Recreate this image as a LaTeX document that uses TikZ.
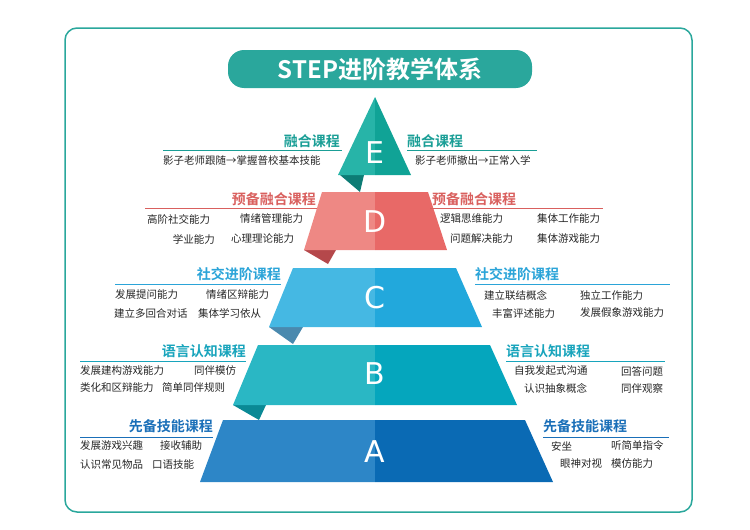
\documentclass[tikz,border=0pt]{standalone}
\usepackage{fontspec}
\setmainfont{Noto Sans CJK SC}
\newfontfamily\headfont{Noto Sans CJK SC Bold}
\newfontfamily\letterfont{DejaVu Sans}
\usetikzlibrary{positioning}
\definecolor{frameteal}{HTML}{2AA79C}
\definecolor{eL}{HTML}{27B4A8}\definecolor{eR}{HTML}{10A396}\definecolor{eF}{HTML}{0D7C75}
\definecolor{dL}{HTML}{EE8884}\definecolor{dR}{HTML}{E86967}\definecolor{dF}{HTML}{B5484B}
\definecolor{cL}{HTML}{45B8E3}\definecolor{cR}{HTML}{22A8DC}\definecolor{cF}{HTML}{4A89AE}
\definecolor{bL}{HTML}{2AB7C4}\definecolor{bR}{HTML}{05A6BD}\definecolor{bF}{HTML}{0A8995}
\definecolor{aL}{HTML}{2D86C7}\definecolor{aR}{HTML}{0A6AB4}
\definecolor{eH}{HTML}{1A9E96}\definecolor{dH}{HTML}{D9605E}\definecolor{cH}{HTML}{2BA4D8}
\definecolor{bH}{HTML}{18A4BC}\definecolor{aH}{HTML}{1A6FB8}

\begin{document}
\begin{tikzpicture}[x=1pt,y=-1pt,
  item/.style={font=\fontsize{10.5}{12}\selectfont,inner sep=0pt,text=black!85},
  head/.style={font=\headfont\fontsize{14}{16}\selectfont,inner sep=0pt},
  letter/.style={font=\letterfont\fontsize{30}{30}\selectfont,text=white,inner sep=0pt}]

  \useasboundingbox (0,0) rectangle (750,530);
  \draw[frameteal,line width=1.5pt,rounded corners=12pt] (65,28) rectangle (692,512);

  % title
  \fill[frameteal,rounded corners=16pt] (228,50) rectangle (532,88);
  \node[font=\headfont\fontsize{24}{26}\selectfont,text=white] (title) at (380,69) {STEP进阶教学体系};

  % tiers
  \fill[eF] (340,175) -- (364,175) -- (360,192) -- cycle;
  \fill[eL] (375,97) -- (338,175) -- (375,175) -- cycle;
  \fill[eR] (375,97) -- (411,175) -- (375,175) -- cycle;
  \fill[dF] (304,250) -- (336,250) -- (328,264) -- cycle;
  \fill[dL] (322,192) -- (375,192) -- (375,250) -- (304,250) -- cycle;
  \fill[dR] (375,192) -- (428,192) -- (447,250) -- (375,250) -- cycle;
  \fill[cF] (269,327) -- (303,327) -- (293,344) -- cycle;
  \fill[cL] (293,268) -- (375,268) -- (375,327) -- (269,327) -- cycle;
  \fill[cR] (375,268) -- (456,268) -- (482,327) -- (375,327) -- cycle;
  \fill[bF] (233,405) -- (266,405) -- (259,420) -- cycle;
  \fill[bL] (258,345) -- (375,345) -- (375,405) -- (233,405) -- cycle;
  \fill[bR] (375,345) -- (490,345) -- (517,405) -- (375,405) -- cycle;
  \fill[aL] (223,420) -- (375,420) -- (375,482) -- (200,482) -- cycle;
  \fill[aR] (375,420) -- (525,420) -- (553,482) -- (375,482) -- cycle;

  \node[letter] (E) at (375,153) {E};
  \node[letter] (D) at (375,222) {D};
  \node[letter] (C) at (375,298) {C};
  \node[letter] (B) at (375,374) {B};
  \node[letter] (A) at (375,452) {A};

  % E
  \node[head,text=eH,anchor=east] (eleft) at (340,141) {融合课程};
  \draw[eH,thick] (163,150) -- (342,150);
  \node[item,anchor=west] (e1) at (163,160) {影子老师跟随→掌握普校基本技能};
  \node[head,text=eH,anchor=west] (eright) at (407,141) {融合课程};
  \draw[eH,thick] (407,150) -- (537,150);
  \node[item,anchor=west] (e2) at (415,160) {影子老师撤出→正常入学};

  % D
  \node[head,text=dH,anchor=east] (dleft) at (316,199) {预备融合课程};
  \draw[dH,thick] (145,208) -- (317,208);
  \node[item,anchor=west] at (147,219) {高阶社交能力};
  \node[item,anchor=west] at (240,219) {情绪管理能力};
  \node[item,anchor=east] at (215,239) {学业能力};
  \node[item,anchor=west] at (231,239) {心理理论能力};
  \node[head,text=dH,anchor=west] (dright) at (432,199) {预备融合课程};
  \draw[dH,thick] (430,208) -- (603,208);
  \node[item,anchor=west] at (440,219) {逻辑思维能力};
  \node[item,anchor=west] at (537,219) {集体工作能力};
  \node[item,anchor=west] at (450,239) {问题解决能力};
  \node[item,anchor=west] at (537,239) {集体游戏能力};

  % C
  \node[head,text=cH,anchor=east] (cleft) at (281,274) {社交进阶课程};
  \draw[cH,thick] (115,284) -- (281,284);
  \node[item,anchor=west] at (115,295) {发展提问能力};
  \node[item,anchor=west] at (206,295) {情绪区辩能力};
  \node[item,anchor=west] at (114,313) {建立多回合对话};
  \node[item,anchor=west] at (198,313) {集体学习依从};
  \node[head,text=cH,anchor=west] (cright) at (475,274) {社交进阶课程};
  \draw[cH,thick] (475,284) -- (670,284);
  \node[item,anchor=west] at (484,295) {建立联结概念};
  \node[item,anchor=west] at (580,295) {独立工作能力};
  \node[item,anchor=west] at (492,313) {丰富评述能力};
  \node[item,anchor=west] at (580,313) {发展假象游戏能力};

  % B
  \node[head,text=bH,anchor=east] (bleft) at (246,351) {语言认知课程};
  \draw[bH,thick] (80,361) -- (246,361);
  \node[item,anchor=west] at (80,371) {发展建构游戏能力};
  \node[item,anchor=west] at (194,371) {同伴模仿};
  \node[item,anchor=west] at (80,388) {类化和区辩能力};
  \node[item,anchor=west] at (162,388) {简单同伴规则};
  \node[head,text=bH,anchor=west] (bright) at (506,351) {语言认知课程};
  \draw[bH,thick] (506,361) -- (665,361);
  \node[item,anchor=west] at (514,371) {自我发起式沟通};
  \node[item,anchor=west] at (621,371) {回答问题};
  \node[item,anchor=west] at (524,388) {认识抽象概念};
  \node[item,anchor=west] at (621,388) {同伴观察};

  % A
  \node[head,text=aH,anchor=east] (aleft) at (213,426) {先备技能课程};
  \draw[aH,thick] (80,437) -- (213,437);
  \node[item,anchor=west] at (80,446) {发展游戏兴趣};
  \node[item,anchor=west] at (160,446) {接收辅助};
  \node[item,anchor=west] at (80,464) {认识常见物品};
  \node[item,anchor=west] at (152,464) {口语技能};
  \node[head,text=aH,anchor=west] (aright) at (543,426) {先备技能课程};
  \draw[aH,thick] (543,437) -- (669,437);
  \node[item,anchor=west] at (551,446) {安坐};
  \node[item,anchor=west] at (611,446) {听简单指令};
  \node[item,anchor=west] at (560,464) {眼神对视};
  \node[item,anchor=west] at (611,464) {模仿能力};
\end{tikzpicture}
\end{document}
